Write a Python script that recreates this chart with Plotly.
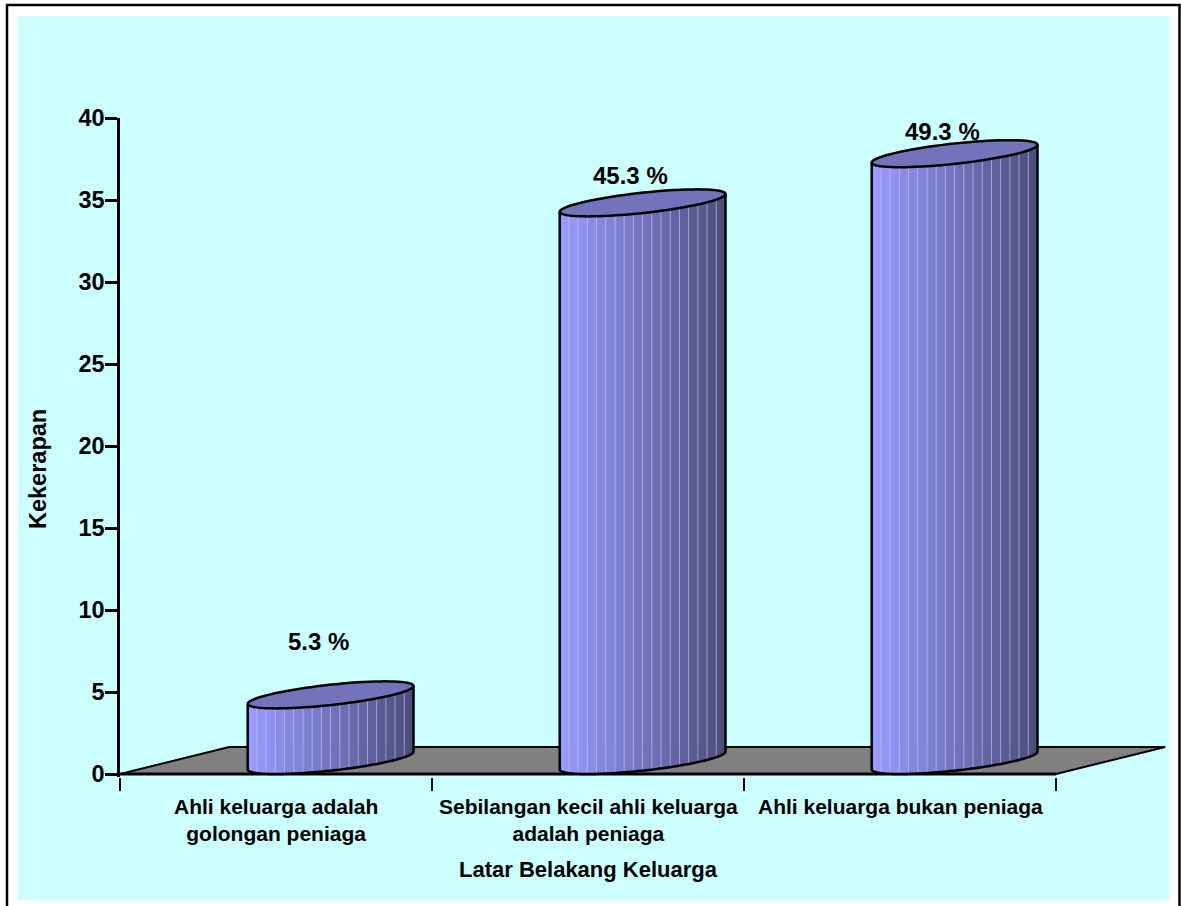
import math
import plotly.graph_objects as go

# ---------------- data ----------------
categories = [
    "Ahli keluarga adalah<br>golongan peniaga",
    "Sebilangan kecil ahli keluarga<br>adalah peniaga",
    "Ahli keluarga bukan peniaga",
]
frequency = [4, 34, 37]
percent = [5.3, 45.3, 49.3]
y_ticks = [0, 5, 10, 15, 20, 25, 30, 35, 40]
x_title = "Latar Belakang Keluarga"
y_title = "Kekerapan"

# ---------------- style / geometry ----------------
FONT = "Liberation Sans, Arial, sans-serif"
BAR_W = 0.4          # bar width in category units
DX = 0.35            # 3D depth offset (x units)
DY = 1.65            # 3D depth offset (y units)
N_STRIPS = 18
LIGHT = (153, 153, 255)
DARK = (78, 78, 125)
TOP_COLOR = "#7373BB"
FLOOR_COLOR = "#808080"
BG_CYAN = "#CCFFFF"
pct_label_dx = 0.135
pct_label_lift = [4.05, 2.5, 2.2]

W, H = 1181, 906
L_M, R_M, T_M, B_M = 120, 9, 118, 129
PX_PER_CAT = 312.0
PX_PER_Y = 16.4
plot_w = W - L_M - R_M
plot_h = H - T_M - B_M
x_range = [-0.5, -0.5 + plot_w / PX_PER_CAT]
y_range = [40 - plot_h / PX_PER_Y, 40]


def fmt(x, y):
    return f"{x:.5f},{y:.5f}"


def ellipse_pt(i, h, t):
    cx = i + DX / 2
    ux = BAR_W / 2
    vx, vy = DX / 2, DY / 2
    return (cx + ux * math.cos(t) + vx * math.sin(t), h + vy + vy * math.sin(t))


shapes = []


def px_to_paper_x(px):
    return (px - L_M) / plot_w


def px_to_paper_y(py):
    return (H - B_M - py) / plot_h


# page frame and cyan background
shapes.append(dict(type="rect", xref="paper", yref="paper", layer="below",
                   x0=px_to_paper_x(18), x1=px_to_paper_x(1169),
                   y0=px_to_paper_y(900), y1=px_to_paper_y(16),
                   fillcolor=BG_CYAN, line=dict(width=0)))
shapes.append(dict(type="rect", xref="paper", yref="paper", layer="below",
                   x0=px_to_paper_x(7), x1=px_to_paper_x(1179.5),
                   y0=px_to_paper_y(915), y1=px_to_paper_y(5),
                   fillcolor="rgba(0,0,0,0)", line=dict(color="black", width=2.5)))

# floor
n_cat = len(categories)
fx0, fx1 = -0.5, n_cat - 0.5
floor_path = ("M " + fmt(fx0, 0) + " L " + fmt(fx1, 0) + " L " + fmt(fx1 + DX, DY)
              + " L " + fmt(fx0 + DX, DY) + " Z")
shapes.append(dict(type="path", xref="x", yref="y", layer="below", path=floor_path,
                   fillcolor=FLOOR_COLOR, line=dict(color="black", width=2)))
shapes.append(dict(type="line", xref="x", yref="y", layer="below",
                   x0=fx0, x1=fx1, y0=0, y1=0, line=dict(color="black", width=3)))

# cylinders
for i, v in enumerate(frequency):
    ux = BAR_W / 2
    vx = DX / 2
    phi = math.atan2(vx, ux)
    ts = [phi + math.pi + math.acos(1 - 2 * k / N_STRIPS) for k in range(N_STRIPS + 1)]
    for k in range(N_STRIPS):
        sub = [ts[k] + (ts[k + 1] - ts[k]) * j / 4 for j in range(5)]
        pts = [ellipse_pt(i, 0, t) for t in sub] + [ellipse_pt(i, v, t) for t in reversed(sub)]
        path = "M " + " L ".join(fmt(*p) for p in pts) + " Z"
        f = k / (N_STRIPS - 1)
        col = tuple(round(LIGHT[c] + (DARK[c] - LIGHT[c]) * f) for c in range(3))
        shapes.append(dict(type="path", xref="x", yref="y", layer="below", path=path,
                           fillcolor=f"rgb{col}", line=dict(width=0.6, color=f"rgb{col}")))
    seg = []
    for k in range(1, N_STRIPS):
        b = ellipse_pt(i, 0, ts[k])
        tp = ellipse_pt(i, v, ts[k])
        seg.append("M " + fmt(*b) + " L " + fmt(*tp))
    shapes.append(dict(type="path", xref="x", yref="y", layer="below", path=" ".join(seg),
                       line=dict(color="rgba(205,205,255,0.6)", width=1)))
    base_pts = [ellipse_pt(i, 0, ts[0] + (ts[-1] - ts[0]) * j / 60) for j in range(61)]
    outline = ("M " + fmt(*ellipse_pt(i, v, ts[0])) + " L "
               + " L ".join(fmt(*p) for p in base_pts) + " L " + fmt(*ellipse_pt(i, v, ts[-1])))
    shapes.append(dict(type="path", xref="x", yref="y", layer="below", path=outline,
                       line=dict(color="black", width=2.5)))
    top_pts = [ellipse_pt(i, v, 2 * math.pi * j / 80) for j in range(80)]
    top_path = "M " + " L ".join(fmt(*p) for p in top_pts) + " Z"
    shapes.append(dict(type="path", xref="x", yref="y", layer="below", path=top_path,
                       fillcolor=TOP_COLOR, line=dict(color="black", width=2.5)))


def bold(size):
    return dict(family=FONT, size=size, color="black", weight="bold")


annotations = []
for i, (v, p) in enumerate(zip(frequency, percent)):
    annotations.append(dict(x=i + pct_label_dx, y=v + pct_label_lift[i], xref="x", yref="y",
                            text=f"{p:.1f} %", showarrow=False, font=bold(24),
                            xanchor="center", yanchor="middle"))
for i, c in enumerate(categories):
    annotations.append(dict(x=i, y=0, xref="x", yref="y", text=c, showarrow=False,
                            font=bold(21), xanchor="center", yanchor="top", yshift=-19))
annotations.append(dict(x=(n_cat - 1) / 2, y=0, xref="x", yref="y", text=x_title,
                        showarrow=False, font=bold(22), xanchor="center", yanchor="top",
                        yshift=-81))
annotations.append(dict(x=-0.5, y=(774 - 469) / PX_PER_Y, xref="x", yref="y", text=y_title,
                        showarrow=False, font=bold(23.5), textangle=-90, xshift=-82,
                        xanchor="center", yanchor="middle"))

fig = go.Figure()
fig.add_trace(go.Bar(x=list(range(n_cat)), y=frequency, width=BAR_W,
                     marker=dict(color="rgba(0,0,0,0)"), showlegend=False,
                     hovertext=[c.replace("<br>", " ") for c in categories]))

fig.update_layout(
    width=W, height=H, template="none",
    margin=dict(l=L_M, r=R_M, t=T_M, b=B_M, pad=0),
    paper_bgcolor="white", plot_bgcolor="rgba(0,0,0,0)",
    showlegend=False,
    shapes=shapes, annotations=annotations,
    xaxis=dict(range=x_range, showgrid=False, zeroline=False, showline=False,
               tickmode="array", tickvals=[-0.5, 0.5, 1.5, 2.5], ticks="outside",
               ticklen=13, tickwidth=2, tickcolor="black", showticklabels=False,
               fixedrange=True),
    yaxis=dict(range=y_range, showgrid=False, zeroline=False, showline=True,
               linecolor="black", linewidth=2.5, tickmode="array", tickvals=y_ticks,
               ticktext=[str(t) for t in y_ticks], ticks="outside", ticklen=12,
               tickwidth=2.5, tickcolor="black", tickfont=bold(23.5),
               ticklabelstandoff=-4, fixedrange=True),
)

fig.write_html(
    "out.html",
    config={"displayModeBar": False},
    post_script="document.body.style.margin='0';document.body.style.overflow='hidden';",
)
